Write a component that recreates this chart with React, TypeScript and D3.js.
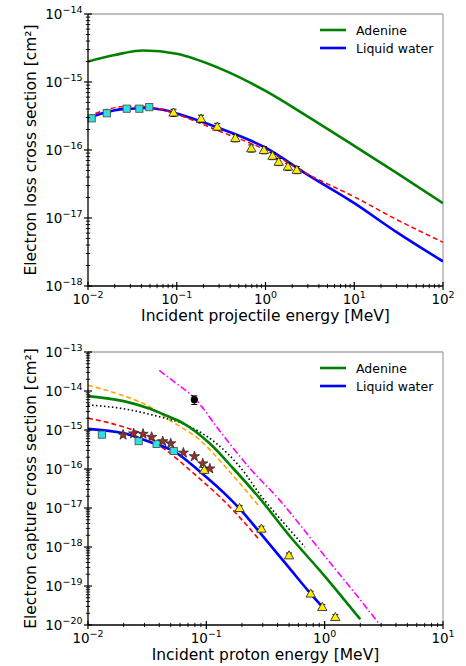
import React from 'react';
import * as d3 from 'd3';

// ---- electron loss (top panel) ----
const lossAdenineE = [0.01, 0.02, 0.042, 0.1, 0.3, 1, 3, 10, 30, 100];
const lossAdenine = [2.0e-15, 2.5e-15, 2.9e-15, 2.6e-15, 1.6e-15, 7.4e-16, 3.1e-16, 1.15e-16, 4.6e-17, 1.65e-17];

const lossWaterE = [0.01, 0.015, 0.02, 0.03, 0.045, 0.07, 0.1, 0.3, 1, 3, 10, 30, 100];
const lossWater = [2.95e-16, 3.5e-16, 3.85e-16, 4.05e-16, 4.15e-16, 3.9e-16, 3.45e-16, 2.1e-16, 1.08e-16, 4.3e-17, 1.65e-17, 6.2e-18, 2.3e-18];

const lossRedE = [0.01, 0.015, 0.02, 0.03, 0.045, 0.07, 0.1, 0.3, 1, 3, 10, 30, 100];
const lossRed = [3.1e-16, 3.8e-16, 4.2e-16, 4.4e-16, 4.35e-16, 3.9e-16, 3.35e-16, 1.9e-16, 1.0e-16, 4.4e-17, 2.05e-17, 9.5e-18, 4.4e-18];

const lossSquaresE = [0.011, 0.0163, 0.0273, 0.0379, 0.049];
const lossSquares = [2.92e-16, 3.47e-16, 4.05e-16, 4.05e-16, 4.27e-16];

const lossTrianglesE = [0.092, 0.1876, 0.286, 0.457, 0.692, 0.96, 1.2, 1.41, 1.79, 2.25];
const lossTriangles = [3.55e-16, 2.9e-16, 2.2e-16, 1.5e-16, 1.06e-16, 1.0e-16, 8.2e-17, 6.7e-17, 5.7e-17, 5.1e-17];

// ---- electron capture (bottom panel) ----
const capAdenineE = [0.01, 0.02, 0.0334, 0.045, 0.064, 0.107, 0.169, 0.284, 0.5, 1, 2];
const capAdenine = [7.4e-15, 5.5e-15, 3.5e-15, 2.4e-15, 1.48e-15, 4.5e-16, 1.03e-16, 1.74e-17, 2.0e-18, 1.8e-19, 1.4e-20];

const capWaterE = [0.01, 0.02, 0.0334, 0.0526, 0.0885, 0.158, 0.19, 0.3, 0.5, 0.76, 0.97];
const capWater = [1.07e-15, 8.2e-16, 4.9e-16, 2.9e-16, 8.5e-17, 1.74e-17, 9.8e-18, 1.9e-18, 2.95e-19, 6.4e-20, 2.8e-20];

const capRedE = [0.01, 0.02, 0.03, 0.0406, 0.0545, 0.0728, 0.0975, 0.135, 0.275];
const capRed = [2.0e-15, 1.2e-15, 7.5e-16, 3.9e-16, 2.0e-16, 9.3e-17, 4.3e-17, 1.74e-17, 1.65e-18];

const capOrangeE = [0.01, 0.02, 0.0334, 0.0493, 0.0885, 0.149, 0.234, 0.275];
const capOrange = [1.4e-14, 7.5e-15, 3.9e-15, 1.78e-15, 5.5e-16, 1.03e-16, 2.1e-17, 1.17e-17];

const capDottedE = [0.01, 0.02, 0.0356, 0.0683, 0.122, 0.193, 0.294, 0.5, 0.68];
const capDotted = [4.4e-15, 3.5e-15, 2.4e-15, 1.32e-15, 4.5e-16, 1.12e-16, 1.94e-17, 2.9e-18, 1.0e-18];

const capMagentaE = [0.04, 0.0545, 0.0776, 0.135, 0.234, 0.406, 1, 2, 2.94];
const capMagenta = [3.4e-14, 1.65e-14, 7.1e-15, 8.1e-16, 1.03e-16, 1.74e-17, 5.9e-19, 4.4e-20, 1.0e-20];

const capSquaresE = [0.0131, 0.0268, 0.038, 0.053];
const capSquares = [7.6e-16, 5.2e-16, 4.4e-16, 2.9e-16];

const capStarsE = [0.0198, 0.0243, 0.0292, 0.0345, 0.0428, 0.05, 0.064, 0.0793, 0.0933, 0.107];
const capStars = [7.5e-16, 8.1e-16, 7.9e-16, 6.6e-16, 5.1e-16, 4.5e-16, 2.6e-16, 2.1e-16, 1.38e-16, 1.02e-16];

const capTrianglesE = [0.096, 0.191, 0.292, 0.5, 0.762, 0.955, 1.23];
const capTriangles = [9.5e-17, 1.0e-17, 2.95e-18, 6.1e-19, 6.4e-20, 2.9e-20, 1.6e-20];

const capCircleE = [0.0792];
const capCircle = [6.0e-15];

type Pt = [number, number];
const zip = (xs: number[], ys: number[]): Pt[] => xs.map((x, i) => [x, ys[i]]);

interface LineSpec {
  pts: Pt[];
  color: string;
  width: number;
  dash?: string;
}

interface MarkSpec {
  pts: Pt[];
  kind: 'square' | 'triangle' | 'star' | 'circle';
  err?: number;
}

interface Box { l: number; r: number; t: number; b: number; }

const FONT = 'DejaVu Sans, sans-serif';

function Mark({ kind, cx, cy }: { kind: MarkSpec['kind']; cx: number; cy: number }) {
  if (kind === 'square') {
    return <rect x={cx - 3.6} y={cy - 3.6} width={7.2} height={7.2} fill="#2ee0e0" stroke="#555" strokeWidth={0.9} />;
  }
  if (kind === 'circle') {
    return <circle cx={cx} cy={cy} r={3.6} fill="#000" />;
  }
  const sym = kind === 'triangle' ? d3.symbolTriangle : d3.symbolStar;
  const size = kind === 'triangle' ? 38 : 32;
  const fill = kind === 'triangle' ? '#ffee00' : '#a52a2a';
  return (
    <path
      d={d3.symbol().type(sym).size(size)() ?? ''}
      transform={`translate(${cx},${cy + (kind === 'triangle' ? 0.8 : 0)})`}
      fill={fill}
      stroke="#333"
      strokeWidth={0.9}
    />
  );
}

function Panel({
  box, xDom, yDom, xLabel, yLabel, lines, marks, legendY, id,
}: {
  box: Box; xDom: [number, number]; yDom: [number, number];
  xLabel: string; yLabel: string; lines: LineSpec[]; marks: MarkSpec[];
  legendY: number; id: string;
}) {
  const x = d3.scaleLog().domain(xDom).range([box.l, box.r]);
  const y = d3.scaleLog().domain(yDom).range([box.b, box.t]);
  const line = d3.line<Pt>().x((d) => x(d[0])).y((d) => y(d[1])).curve(d3.curveMonotoneX);

  const decades = (dom: [number, number]) => {
    const out: number[] = [];
    for (let e = Math.round(Math.log10(dom[0])); e <= Math.round(Math.log10(dom[1])); e++) out.push(e);
    return out;
  };
  const xMaj = decades(xDom);
  const yMaj = decades(yDom);
  const minors = (maj: number[]) =>
    maj.slice(0, -1).flatMap((e) => d3.range(2, 10).map((k) => k * Math.pow(10, e)));
  const xMin = minors(xMaj);
  const yMin = minors(yMaj);
  const sup = (e: number) => (e < 0 ? `\u2212${-e}` : `${e}`);

  return (
    <g>
      <defs>
        <clipPath id={id}>
          <rect x={box.l} y={box.t} width={box.r - box.l} height={box.b - box.t} />
        </clipPath>
      </defs>

      {/* frame */}
      <line x1={box.l} x2={box.r} y1={box.t} y2={box.t} stroke="#a8a8a8" strokeWidth={1.3} />
      <line x1={box.r} x2={box.r} y1={box.t} y2={box.b} stroke="#a8a8a8" strokeWidth={1.3} />

      {/* curves */}
      <g clipPath={`url(#${id})`}>
        {lines.map((s, i) => (
          <path key={i} d={line(s.pts) ?? ''} fill="none" stroke={s.color}
            strokeWidth={s.width} strokeDasharray={s.dash} />
        ))}
      </g>

      {/* markers + error bars */}
      {marks.map((m, i) => (
        <g key={i}>
          {m.pts.map(([ex, ev], j) => {
            const cx = x(ex);
            const cy = y(ev);
            const err = m.err;
            return (
              <g key={j}>
                {err && (
                  <g stroke="#000" strokeWidth={1}>
                    <line x1={cx} x2={cx} y1={y(ev * (1 + err))} y2={y(ev * (1 - err))} />
                    <line x1={cx - 3} x2={cx + 3} y1={y(ev * (1 + err))} y2={y(ev * (1 + err))} />
                    <line x1={cx - 3} x2={cx + 3} y1={y(ev * (1 - err))} y2={y(ev * (1 - err))} />
                  </g>
                )}
                <Mark kind={m.kind} cx={cx} cy={cy} />
              </g>
            );
          })}
        </g>
      ))}

      {/* axes */}
      <line x1={box.l} x2={box.r} y1={box.b} y2={box.b} stroke="#000" strokeWidth={1.3} />
      <line x1={box.l} x2={box.l} y1={box.t} y2={box.b} stroke="#000" strokeWidth={1.3} />
      {xMaj.map((e) => (
        <g key={`xM${e}`}>
          <line x1={x(10 ** e)} x2={x(10 ** e)} y1={box.b - 4} y2={box.b + 4} stroke="#000" strokeWidth={1.2} />
          <text x={x(10 ** e)} y={box.b + 17.5} textAnchor="middle" fontSize={13.5} fill="#000">
            <tspan>10</tspan>
            <tspan dy={-5.5} fontSize={9.5}>{sup(e)}</tspan>
          </text>
        </g>
      ))}
      {xMin.map((v) => (
        <line key={`xm${v}`} x1={x(v)} x2={x(v)} y1={box.b - 2.2} y2={box.b + 2.2} stroke="#000" strokeWidth={0.9} />
      ))}
      {yMaj.map((e) => (
        <g key={`yM${e}`}>
          <line x1={box.l - 4} x2={box.l + 4} y1={y(10 ** e)} y2={y(10 ** e)} stroke="#000" strokeWidth={1.2} />
          <text x={box.l - 5.5} y={y(10 ** e) + 4.5} textAnchor="end" fontSize={13.5} fill="#000">
            <tspan>10</tspan>
            <tspan dy={-5.5} fontSize={9.5}>{sup(e)}</tspan>
          </text>
        </g>
      ))}
      {yMin.map((v) => (
        <line key={`ym${v}`} x1={box.l - 2.2} x2={box.l + 2.2} y1={y(v)} y2={y(v)} stroke="#000" strokeWidth={0.9} />
      ))}

      {/* axis titles */}
      <text x={(box.l + box.r) / 2} y={box.b + 35} textAnchor="middle" fontSize={15.5} fill="#000">
        {xLabel}
      </text>
      <text transform={`translate(36,${(box.t + box.b) / 2}) rotate(-90)`} textAnchor="middle" fontSize={15.5} fill="#000">
        {yLabel}
      </text>

      {/* legend */}
      <g fontSize={12.5} fill="#000">
        <line x1={320} x2={346} y1={legendY} y2={legendY} stroke="green" strokeWidth={2.6} />
        <text x={356} y={legendY + 4.5}>Adenine</text>
        <line x1={320} x2={346} y1={legendY + 18} y2={legendY + 18} stroke="#0000ff" strokeWidth={2.6} />
        <text x={356} y={legendY + 22.5}>Liquid water</text>
      </g>
    </g>
  );
}

export default function App() {
  const topLines: LineSpec[] = [
    { pts: zip(lossAdenineE, lossAdenine), color: 'green', width: 2.6 },
    { pts: zip(lossWaterE, lossWater), color: '#0000ff', width: 2.6 },
    { pts: zip(lossRedE, lossRed), color: '#ff0000', width: 1.5, dash: '5,3' },
  ];
  const topMarks: MarkSpec[] = [
    { pts: zip(lossSquaresE, lossSquares), kind: 'square' },
    { pts: zip(lossTrianglesE, lossTriangles), kind: 'triangle', err: 0.12 },
  ];
  const botLines: LineSpec[] = [
    { pts: zip(capOrangeE, capOrange), color: '#ffa500', width: 1.6, dash: '5,3' },
    { pts: zip(capDottedE, capDotted), color: '#000', width: 1.6, dash: '1.5,2.5' },
    { pts: zip(capRedE, capRed), color: '#ff0000', width: 1.6, dash: '5,3' },
    { pts: zip(capMagentaE, capMagenta), color: '#ff00ff', width: 1.6, dash: '7,2.5,1.5,2.5' },
    { pts: zip(capAdenineE, capAdenine), color: 'green', width: 2.6 },
    { pts: zip(capWaterE, capWater), color: '#0000ff', width: 2.6 },
  ];
  const botMarks: MarkSpec[] = [
    { pts: zip(capSquaresE, capSquares), kind: 'square' },
    { pts: zip(capStarsE, capStars), kind: 'star' },
    { pts: zip(capTrianglesE, capTriangles), kind: 'triangle', err: 0.15 },
    { pts: zip(capCircleE, capCircle), kind: 'circle', err: 0.25 },
  ];

  return (
    <svg width={466} height={666} style={{ position: 'absolute', left: 0, top: 0, background: '#fff' }}
      fontFamily={FONT}>
      <Panel id="clipTop" box={{ l: 88, r: 443, t: 14, b: 286 }} xDom={[1e-2, 1e2]} yDom={[1e-18, 1e-14]}
        xLabel="Incident projectile energy [MeV]" yLabel="Electron loss cross section [cm²]"
        lines={topLines} marks={topMarks} legendY={30} />
      <Panel id="clipBot" box={{ l: 88, r: 443, t: 352, b: 625 }} xDom={[1e-2, 1e1]} yDom={[1e-20, 1e-13]}
        xLabel="Incident proton energy [MeV]" yLabel="Electron capture cross section [cm²]"
        lines={botLines} marks={botMarks} legendY={368} />
    </svg>
  );
}
